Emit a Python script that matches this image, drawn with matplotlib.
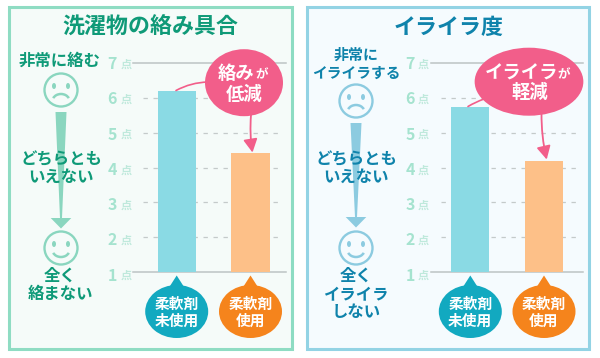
import matplotlib
matplotlib.use("Agg")
import matplotlib.pyplot as plt
from matplotlib.patches import Arc, Circle, Ellipse, FancyArrowPatch, Polygon, Rectangle

plt.rcParams['font.family'] = ['Noto Sans CJK JP', 'DejaVu Sans']

W, H = 600, 358

# chart values
categories = ['柔軟剤\n未使用', '柔軟剤\n使用']
tangle_scores = [6.2, 4.43]
irritation_scores = [5.75, 4.2]
score_ticks = [1, 2, 3, 4, 5, 6, 7]
tick_unit = '点'

GREEN_TEXT = '#0f9a78'
BLUE_TEXT = '#0f83ab'
PINK = '#f25e8a'
BAR_COLORS = ['#8adae4', '#fdc088']
BUBBLE_COLORS = ['#12a9c0', '#f5841c']


fig = plt.figure(figsize=(W / 100, H / 100), dpi=100, facecolor='white')

# background layer in pixel coords
bg = fig.add_axes([0, 0, 1, 1], zorder=0)
bg.set_xlim(0, W)
bg.set_ylim(H, 0)
bg.axis('off')

# overlay layer for everything that sits on top of the charts
top = fig.add_axes([0, 0, 1, 1], zorder=3)
top.set_xlim(0, W)
top.set_ylim(H, 0)
top.axis('off')
top.patch.set_alpha(0)


def draw_panel(x0, x1, face, edge):
    bg.add_patch(Rectangle((x0, 7), x1 - x0, 342, facecolor=face, edgecolor=edge, linewidth=2.2))


def draw_face(cx, cy, color, happy):
    top.add_patch(Circle((cx, cy), 16.5, facecolor='none', edgecolor=color, linewidth=1.7))
    for dx in (-7, 7):
        top.add_patch(Ellipse((cx + dx, cy - 4), 4, 6, color=color, linewidth=0))
    if happy:
        top.add_patch(Arc((cx, cy + 2), 17, 14, theta1=20, theta2=160, color=color, linewidth=1.8))
    else:
        top.add_patch(Arc((cx, cy + 11), 17, 14, theta1=200, theta2=340, color=color, linewidth=1.8))


def draw_scale_arrow(cx, y0, y1, color):
    # y axis is flipped here, y0 is the top of the wedge
    top.add_patch(Polygon([(cx - 5.5, y0), (cx + 5.5, y0), (cx + 1, y1), (cx - 1, y1)],
                          facecolor=color, edgecolor='none', zorder=1))
    top.add_patch(Polygon([(cx - 10.3, y1), (cx + 10.3, y1), (cx, y1 + 10.5)],
                          facecolor=color, edgecolor='none', zorder=1))


def draw_chart(x0, x1, xlim, values):
    ax = fig.add_axes([x0 / W, 1 - 271.7 / H, (x1 - x0) / W, (271.7 - 63.3) / H], zorder=1)
    ax.patch.set_alpha(0)
    ax.set_ylim(1, 7)
    ax.set_xlim(*xlim)
    for s in ax.spines.values():
        s.set_visible(False)
    ax.set_xticks([])
    ax.set_yticks([])
    trans = ax.get_yaxis_transform()
    for t in score_ticks:
        if t in (1, 7):
            ax.plot([0, 1], [t, t], transform=trans, color='#bcc4c4', linewidth=1.1, zorder=1,
                    clip_on=False)
        else:
            ax.plot([0.065, 0.98], [t, t], transform=trans, color='#c4caca', linewidth=0.9,
                    dashes=(3.5, 4.5), zorder=1)
        # the labels drift a little below their gridlines towards the bottom
        drift = -(7 - t) * 0.4 - 0.5
        ax.annotate(str(t), (0, t), xycoords=trans, xytext=(-11.5, drift), textcoords='offset points',
                    ha='right', va='center', fontsize=11.5, color='#a5e3cf', fontweight='bold',
                    annotation_clip=False)
        ax.annotate(tick_unit, (0, t), xycoords=trans, xytext=(-5.2, drift), textcoords='offset points',
                    ha='center', va='center', fontsize=8, color='#bfe9dc', fontweight='bold',
                    annotation_clip=False)
    ax.bar(range(len(values)), values, width=0.518, bottom=0, color=BAR_COLORS, zorder=2)
    return ax


def draw_bubble(cx, label, color):
    top.add_patch(Ellipse((cx, 311.5), 63, 53, facecolor=color, edgecolor='none'))
    top.add_patch(Polygon([(cx - 8, 288), (cx, 275.5), (cx + 8, 288)], facecolor=color, edgecolor='none'))
    top.text(cx, 312, label, color='white', fontsize=10.6, fontweight='bold', ha='center', va='center',
             linespacing=1.05)


def pink_leader(p0, p1, rad):
    top.add_patch(FancyArrowPatch(p0, p1, arrowstyle='-', connectionstyle=f'arc3,rad={rad}',
                                  color=PINK, linewidth=1.2, shrinkA=0, shrinkB=0, zorder=2))


def pink_arrow(p0, p1):
    top.add_patch(FancyArrowPatch(p0, p1, arrowstyle='-|>,head_width=2.9,head_length=5.5',
                                  connectionstyle='arc3,rad=0.06', color=PINK, linewidth=1.3,
                                  shrinkA=0, shrinkB=0, mutation_scale=1.45, zorder=2))


def bold_text(x, y, s, color, size):
    top.text(x, y, s, color=color, fontsize=size, fontweight='bold', ha='center', va='center', zorder=5)


# left panel
draw_panel(9, 291.5, '#f5fbf9', '#8fdcc3')
bold_text(150, 27, '洗濯物の絡み具合', GREEN_TEXT, 15.8)
draw_chart(133, 286, (-0.592, 1.481), tangle_scores)
for x, label, c in zip((176.7, 250.5), categories, BUBBLE_COLORS):
    draw_bubble(x, label, c)
pink_leader((176, 90.5), (208, 82), -0.12)
pink_arrow((251, 115), (252.5, 152.5))
top.add_patch(Ellipse((244, 82.7), 78, 67, facecolor=PINK, edgecolor='none', zorder=3))
bold_text(236.5, 73.5, '絡み', 'white', 13.2)
bold_text(262, 75, 'が', 'white', 9)
bold_text(244.5, 94, '低減', 'white', 13.2)
bold_text(60, 61, '非常に絡む', GREEN_TEXT, 11.8)
draw_face(61, 90, '#8ad6bf', False)
draw_scale_arrow(61, 112, 218, '#8ad6bf')
bold_text(61, 159, 'どちらとも', GREEN_TEXT, 11.8)
bold_text(61, 177, 'いえない', GREEN_TEXT, 11.8)
draw_face(61, 248, '#8ad6bf', True)
bold_text(60, 276, '全く', GREEN_TEXT, 11.8)
bold_text(60, 294, '絡まない', GREEN_TEXT, 11.8)

# right panel
draw_panel(306.8, 589, '#f5fbfe', '#93d3e4')
bold_text(449, 27, 'イライラ度', BLUE_TEXT, 15.8)
draw_chart(430.7, 582.7, (-0.535, 1.525), irritation_scores)
for x, label, c in zip((470.3, 544), categories, BUBBLE_COLORS):
    draw_bubble(x, label, c)
pink_leader((468, 106.5), (484, 99), -0.05)
pink_arrow((541.5, 113), (546.7, 159.5))
top.add_patch(Ellipse((529, 81.7), 108.7, 68, facecolor=PINK, edgecolor='none', zorder=3))
bold_text(521.5, 73, 'イライラ', 'white', 13.2)
bold_text(564, 74.5, 'が', 'white', 9)
bold_text(529.5, 92.5, '軽減', 'white', 13.2)
bold_text(356, 55, '非常に', BLUE_TEXT, 10.8)
bold_text(356, 73, 'イライラする', BLUE_TEXT, 10.6)
draw_face(356, 101, '#8ccbe0', False)
draw_scale_arrow(356, 123, 217, '#8ccbe0')
bold_text(356, 159, 'どちらとも', BLUE_TEXT, 11.8)
bold_text(356, 177, 'いえない', BLUE_TEXT, 11.8)
draw_face(356, 248, '#8ccbe0', True)
bold_text(356, 276, '全く', BLUE_TEXT, 11.8)
bold_text(356, 295, 'イライラ', BLUE_TEXT, 11.8)
bold_text(356, 312, 'しない', BLUE_TEXT, 11.8)

fig.savefig('out.png', dpi=100)
